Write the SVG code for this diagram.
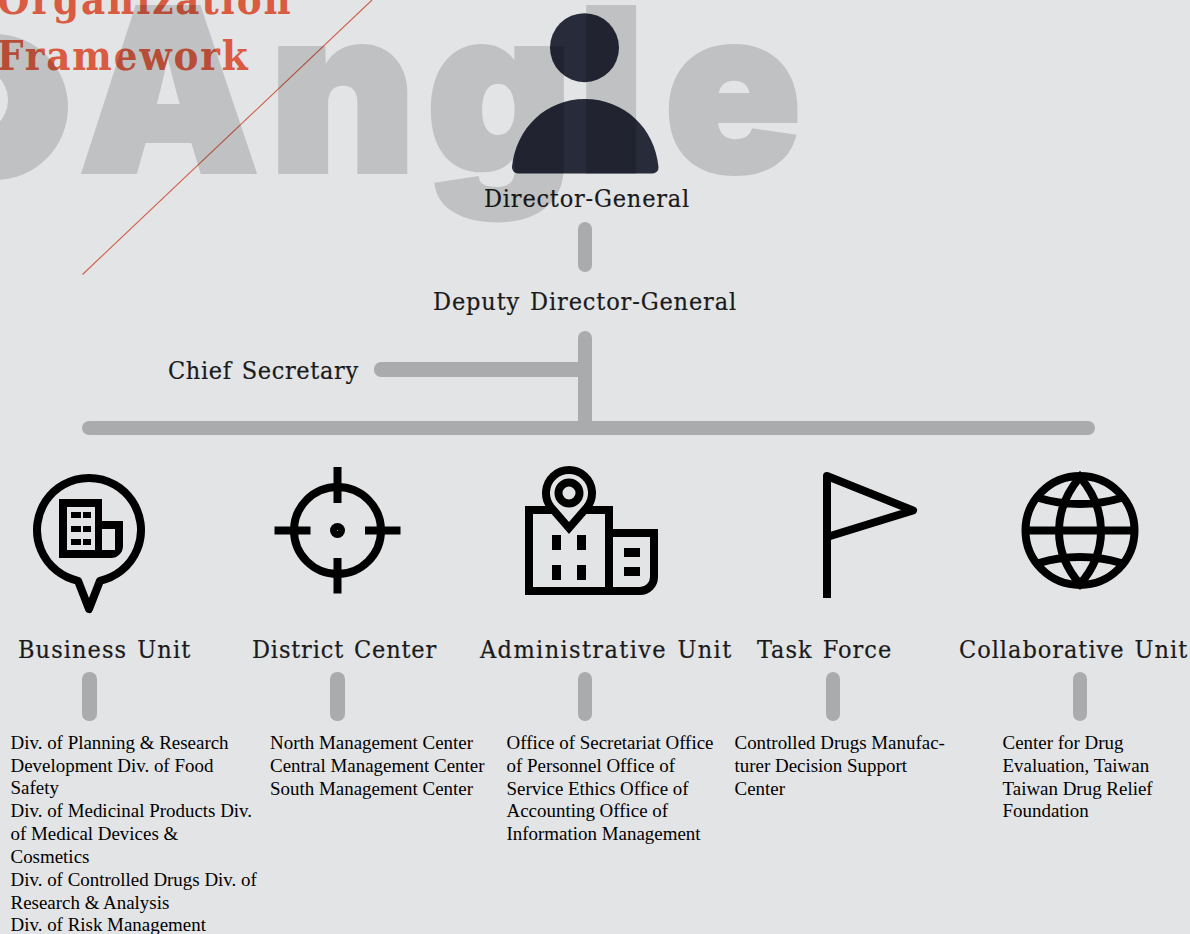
<svg xmlns="http://www.w3.org/2000/svg" width="1190" height="934" viewBox="0 0 1190 934">
<defs><filter id="soft" x="-5%" y="-5%" width="110%" height="110%"><feGaussianBlur stdDeviation="0.7"/></filter></defs>
<style>
.h{font-family:"DejaVu Serif Condensed","DejaVu Serif",serif;font-size:25px;fill:#1a1a1a;letter-spacing:0.8px;word-spacing:2px;stroke:#1a1a1a;stroke-width:0.2px}
.b{font-family:"Liberation Serif",serif;font-size:18.95px;fill:#000}
.t{font-family:"DejaVu Serif Condensed","DejaVu Serif",serif;font-weight:bold;font-size:41.5px;fill:#d95b41;letter-spacing:1.9px}
.c{fill:#aaabad}
.i{fill:none;stroke:#000;stroke-width:8}
.k{fill:#000}
</style>
<rect width="1190" height="934" fill="#e3e4e6"/>
<g id="title">
<text class="t" x="-3" y="14">Organization</text>
<text class="t" x="-3" y="70">Framework</text>
<line x1="82.5" y1="274.5" x2="372" y2="0" stroke="#cf5f49" stroke-width="1.1"/>
</g>
<g id="director">
<circle cx="584.5" cy="47.7" r="34.5" fill="#282b39"/>
<path d="M518 173.500A6 6 0 0 1 512 167C516 128 546 99 585 99C624 99 655 128 658.500 167A6 6 0 0 1 652 173.500Z" fill="#282b39"/>
<text class="h" x="484" y="207" textLength="206">Director-General</text>
</g>
<g id="connectors">
<rect class="c" x="578" y="222" width="14" height="50" rx="7"/>
<rect class="c" x="578" y="331" width="14" height="97" rx="7"/>
<rect class="c" x="374" y="362" width="212" height="15" rx="7"/>
<rect class="c" x="82" y="421" width="1013" height="14" rx="7"/>
<rect class="c" x="82" y="672" width="15" height="49" rx="7"/>
<rect class="c" x="330" y="672" width="15" height="49" rx="7"/>
<rect class="c" x="578" y="672" width="14" height="49" rx="7"/>
<rect class="c" x="826" y="672" width="14" height="49" rx="7"/>
<rect class="c" x="1073" y="672" width="14" height="49" rx="7"/>
</g>
<g id="deputy"><text class="h" x="433" y="310" textLength="304">Deputy Director-General</text></g>
<g id="chief"><text class="h" x="168" y="379" textLength="191">Chief Secretary</text></g>
<g id="business">
<path class="i" stroke-linejoin="round" d="M78 580.800A52 52 0 1 1 100 580.800L89 609Z"/>
<path class="k" fill-rule="evenodd" d="M59 499H102V521H123V546A12 12 0 0 1 111 558H59ZM67 507V550H95V507ZM102 529V550H115V529Z"/>
<path class="k" d="M71 512h10v6h-10zM83 512h8v6h-8zM71 526h10v6h-10zM83 526h8v6h-8zM71 539h10v6h-10zM83 539h8v6h-8z"/>
<text class="h" x="18" y="658" textLength="173">Business Unit</text>
<text class="b" x="10.500" y="749">Div. of Planning &amp; Research</text>
<text class="b" x="10.500" y="772">Development Div. of Food</text>
<text class="b" x="10.500" y="794">Safety</text>
<text class="b" x="10.500" y="817">Div. of Medicinal Products Div.</text>
<text class="b" x="10.500" y="840">of Medical Devices &amp;</text>
<text class="b" x="10.500" y="863">Cosmetics</text>
<text class="b" x="10.500" y="886">Div. of Controlled Drugs Div. of</text>
<text class="b" x="10.500" y="909">Research &amp; Analysis</text>
<text class="b" x="10.500" y="931">Div. of Risk Management</text>
</g>
<g id="district">
<circle class="i" cx="337.500" cy="530.500" r="43.500"/>
<path class="k" d="M333.500 467h8v36h-8zM333.500 558h8v35.500h-8zM274.500 526.500h36v8h-36zM365 526.500h35.500v8h-35.500z"/>
<circle class="k" cx="337.500" cy="530.500" r="7.500"/>
<circle cx="337.500" cy="530.500" r="0.600" fill="#bbb"/>
<text class="h" x="252" y="658" textLength="185">District Center</text>
<text class="b" x="270" y="749">North Management Center</text>
<text class="b" x="270" y="772">Central Management Center</text>
<text class="b" x="270" y="795">South Management Center</text>
</g>
<g id="administrative">
<path class="i" d="M529 510H609V591H529ZM609 533H654V577A14 14 0 0 1 640 591H609"/>
<path class="i" style="fill:#e3e4e6" d="M569 528L551 507.300A23 23 0 1 1 587 507.300Z"/>
<circle class="i" cx="569" cy="493" r="10.500"/>
<path class="k" d="M552 535h9v15h-9zM577 535h9v15h-9zM552 565h9v15h-9zM577 565h9v15h-9zM624 548h16v9h-16zM624 567h16v9h-16z"/>
<text class="h" x="480" y="658" textLength="252">Administrative Unit</text>
<text class="b" x="506.500" y="749">Office of Secretariat Office</text>
<text class="b" x="506.500" y="772">of Personnel Office of</text>
<text class="b" x="506.500" y="795">Service Ethics Office of</text>
<text class="b" x="506.500" y="817">Accounting Office of</text>
<text class="b" x="506.500" y="840">Information Management</text>
</g>
<g id="task-force">
<path class="i" stroke-linejoin="round" d="M827 598V476L913 510.500L827 537"/>
<text class="h" x="757" y="658" textLength="135">Task Force</text>
<text class="b" x="734.500" y="749">Controlled Drugs Manufac-</text>
<text class="b" x="734.500" y="772">turer Decision Support</text>
<text class="b" x="734.500" y="795">Center</text>
</g>
<g id="collaborative">
<circle class="i" cx="1080" cy="530.500" r="54.500"/>
<path class="i" d="M1026 530.500H1134M1080 477C1052 510 1052 552 1080 584C1108 552 1108 510 1080 477ZM1039 498C1065 506 1095 506 1121 498M1039 563C1065 555 1095 555 1121 563"/>
<text class="h" x="959" y="658" textLength="229">Collaborative Unit</text>
<text class="b" x="1002.500" y="749">Center for Drug</text>
<text class="b" x="1002.500" y="772">Evaluation, Taiwan</text>
<text class="b" x="1002.500" y="795">Taiwan Drug Relief</text>
<text class="b" x="1002.500" y="817">Foundation</text>
</g>
<g id="watermark" opacity="0.15" filter="url(#soft)">
<text x="80 270 427 578 665" y="171" font-family="Inter,'Liberation Sans',sans-serif" font-weight="900" font-size="224" fill="#000" stroke="#000" stroke-width="6">Angle</text>
<path fill-rule="evenodd" d="M-78 107A73 73 0 0 1 68 107A73 73 0 0 1 -78 107ZM-68 100A38 35 0 0 0 8 100A38 35 0 0 0 -68 100Z" fill="#000"/>
</g>
</svg>
